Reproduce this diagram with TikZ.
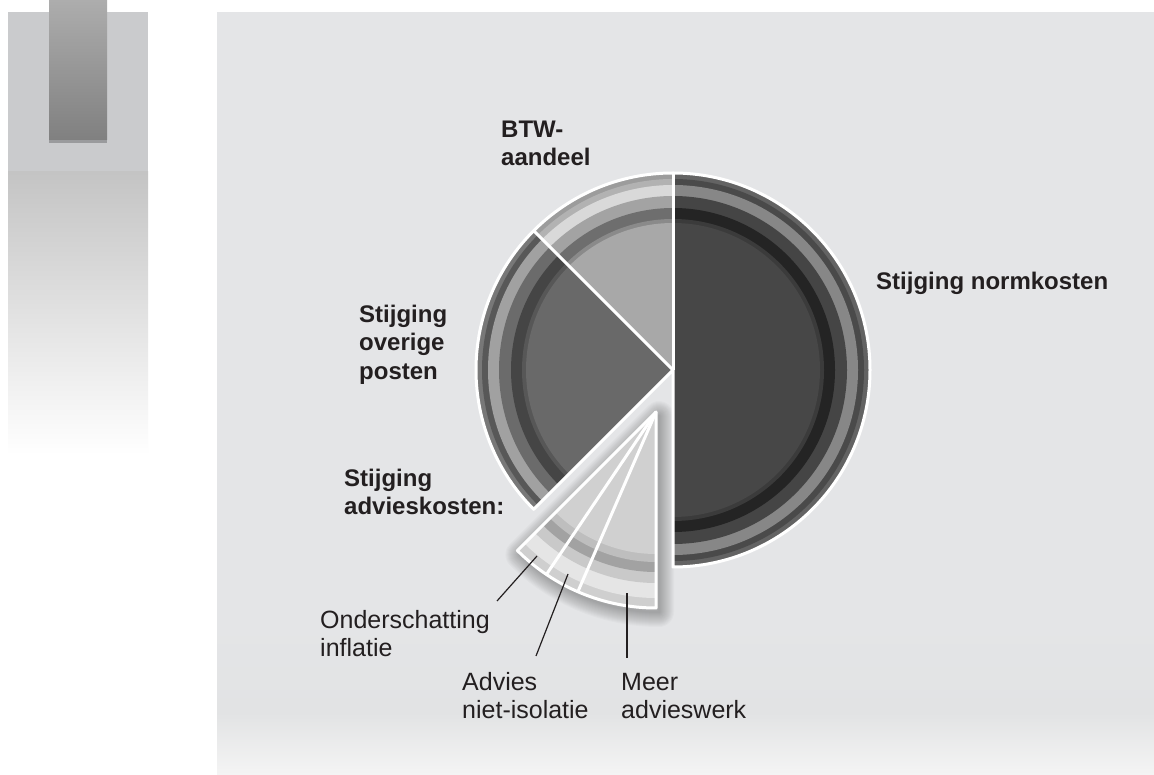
\documentclass[tikz,border=0pt]{standalone}
\usepackage{fontspec}
\setmainfont{Liberation Sans}
\definecolor{panel}{RGB}{228,229,231}
\definecolor{panellow}{RGB}{226,227,228}
\definecolor{panelfade}{RGB}{244,244,244}
\definecolor{lpanel}{RGB}{202,203,205}
\definecolor{lgrad}{RGB}{196,196,196}
\definecolor{bartop}{RGB}{173,173,173}
\definecolor{barbot}{RGB}{128,128,128}
\definecolor{barstrip}{RGB}{154,155,157}
\definecolor{txt}{RGB}{35,31,32}
\newcommand\lblstrut{\rule{0pt}{20pt}}
\newcommand\ringslice[4]{%
  \foreach \rr/\cc in {#4}{\fill[\cc] (#1) -- ++(#2:\rr) arc[start angle=#2, end angle=#3, radius=\rr] -- cycle;}}
\tikzset{
  boldlbl/.style={font=\fontsize{24}{28.5}\selectfont\bfseries, text=txt, align=left, inner sep=0pt, anchor=north west},
  reglbl/.style={font=\fontsize{25}{28}\selectfont, text=txt, align=left, inner sep=0pt, anchor=north west},
  leader/.style={draw=txt, line width=1.2pt},
  divider/.style={draw=white, line width=3pt, line join=round},
  shadowstroke/.style={draw=black, draw opacity=0.02, line join=round},
}
\begin{document}
\begin{tikzpicture}[x=1pt,y=1pt]
\useasboundingbox (0,0) rectangle (1154,774);
\fill[white] (0,0) rectangle (1154,774);
% left panel
\fill[lpanel] (8,602) rectangle (148,762);
\shade[top color=lgrad, bottom color=white] (8,319) rectangle (148,602);
\shade[top color=bartop, bottom color=barbot] (49,634) rectangle (107,774);
\fill[barstrip] (49,631) rectangle (107,634);
% main panel
\fill[panel] (217,154) rectangle (1154,762);
\shade[top color=panel, bottom color=panellow] (217,61) rectangle (1154,154);
\shade[top color=panellow, bottom color=panelfade] (217,0) rectangle (1154,61);
% centres
\coordinate (C) at (673,404);
\coordinate (A) at (656,362);
\coordinate (As) at (659,358);
% shadow of the exploded wedge
\foreach \w in {2,4,...,30}{
  \draw[shadowstroke, line width=\w pt] (As) -- ++(225:196) arc[start angle=225, end angle=270, radius=196] -- cycle;
}
% pie slices
\ringslice{C}{-90}{90}{197/black!61,191/black!71,185/black!47,174/black!73,162/black!86,151/black!77,147/black!72}
\ringslice{C}{90}{135}{197/black!39,191/black!30,185/black!15,174/black!36,162/black!57,151/black!46,147/black!34}
\ringslice{C}{135}{225}{197/black!53,191/black!65.5,185/black!37,174/black!58,162/black!73,151/black!66,147/black!59}
\draw[divider] (C) -- ++(-90:197) arc[start angle=-90, end angle=225, radius=197] -- cycle;
\draw[divider] (C) -- ++(90:197);
\draw[divider] (C) -- ++(135:197);
% exploded wedge
\ringslice{A}{225}{270}{196/black!19,186/black!10,171/black!21,160/black!36.5,150/black!25.5,142/black!18.5}
\draw[divider] (A) -- ++(225:196) arc[start angle=225, end angle=270, radius=196] -- cycle;
\draw[divider] (A) -- ++(236:196);
\draw[divider] (A) -- ++(246.5:196);
% labels
\node[boldlbl] (btw) at (501,657) {\lblstrut BTW-\\aandeel};
\node[boldlbl, anchor=base west] (norm) at (876,484) {Stijging normkosten};
\node[boldlbl] (overig) at (359,472) {\lblstrut Stijging\\overige\\posten};
\node[boldlbl] (advies) at (344,308) {\lblstrut Stijging\\advieskosten:};
\node[reglbl] (infl) at (320,166) {\lblstrut Onderschatting\\inflatie};
\node[reglbl] (niso) at (462,104) {\lblstrut Advies\\niet-isolatie};
\node[reglbl] (meer) at (621,104) {\lblstrut Meer\\advieswerk};
% leader lines
\coordinate (l1a) at (497,173);
\coordinate (l1b) at (537,218);
\coordinate (l2a) at (536,118);
\coordinate (l2b) at (568,200);
\coordinate (l3a) at (627,116);
\coordinate (l3b) at (627,181);
\draw[leader] (l1a) -- (l1b);
\draw[leader] (l2a) -- (l2b);
\draw[leader] (l3a) -- (l3b);
\end{tikzpicture}
\end{document}
